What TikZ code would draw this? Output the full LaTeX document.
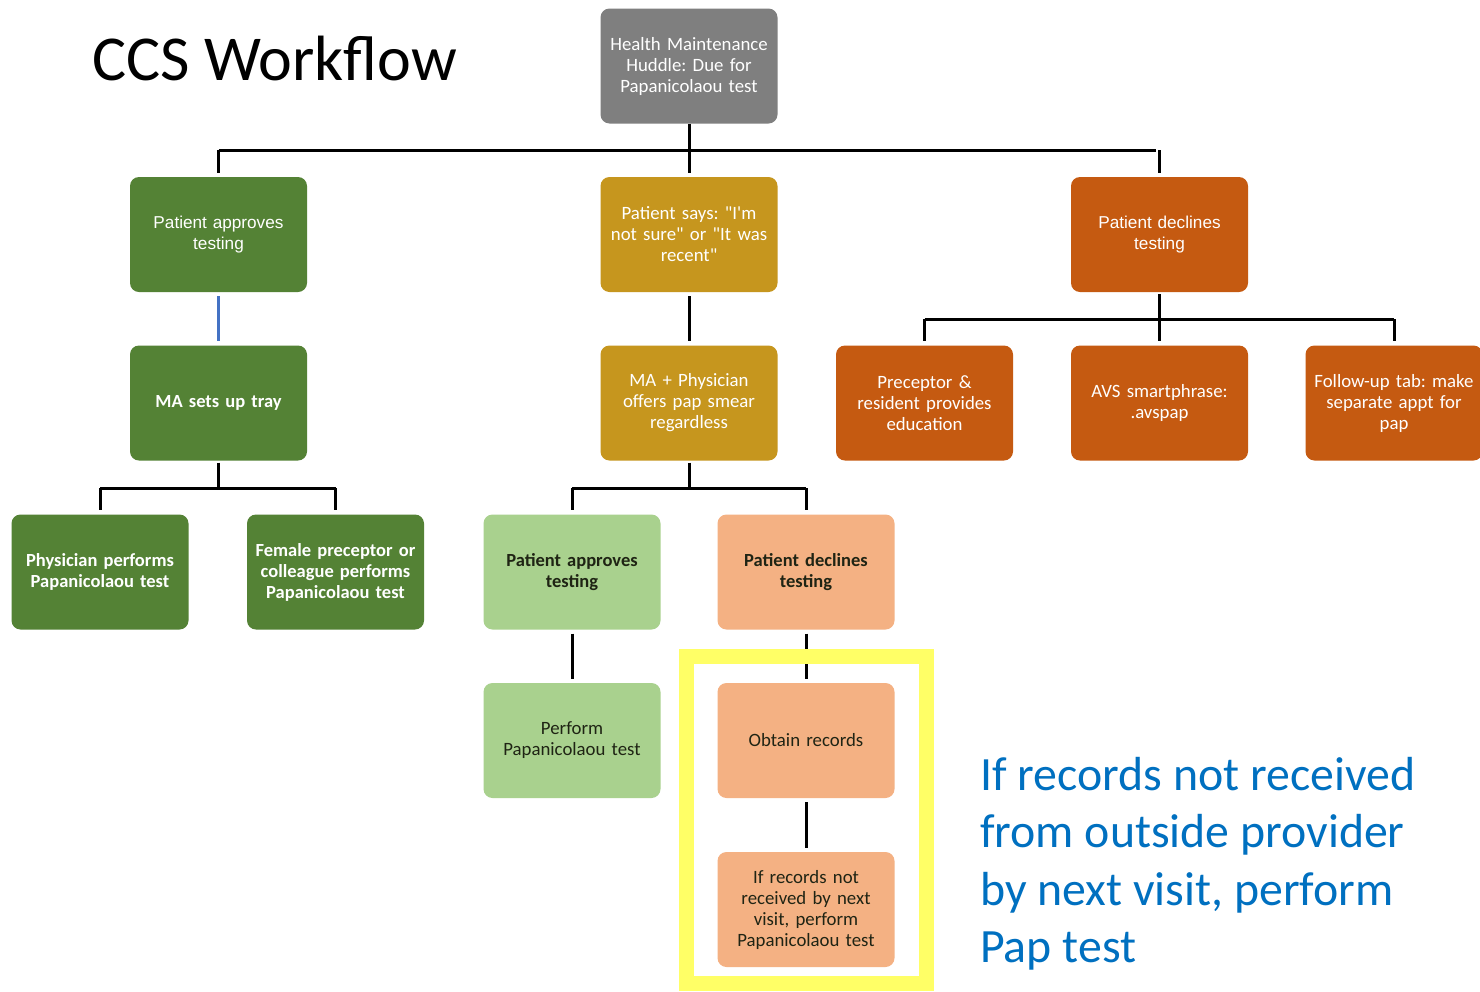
\documentclass[tikz,border=0pt]{standalone}
\usepackage{fontspec}
\setmainfont{Carlito}
\newfontfamily\arialfont{Liberation Sans}
\usetikzlibrary{calc}
\frenchspacing
\definecolor{hmgrey}{HTML}{7F7F7F}
\definecolor{dkgreen}{HTML}{548235}
\definecolor{mustard}{HTML}{C6961E}
\definecolor{burnt}{HTML}{C55A11}
\definecolor{ltgreen}{HTML}{A9D18E}
\definecolor{peach}{HTML}{F4B183}
\definecolor{linkblue}{HTML}{4472C4}
\definecolor{noteblue}{HTML}{0070C0}
\definecolor{hilite}{HTML}{FFFF66}
\definecolor{darktext}{HTML}{1F2414}
\begin{document}
\begin{tikzpicture}[x=1pt,y=-1pt,
  box/.style={rectangle, rounded corners=9pt, minimum width=177pt, minimum height=115pt,
    text width=174pt, align=center, inner sep=0pt, font=\fontsize{18.8}{21}\selectfont},
  dark/.style={box, text=white},
  light/.style={box, text=darktext},
  boldtext/.style={font=\bfseries\fontsize{18.5}{21}\selectfont},
  sanstext/.style={font=\arialfont\fontsize{17.2}{21}\selectfont},
  conn/.style={line width=3pt, black},
  drop/.style={conn, shorten >=4pt},
  link/.style={conn, shorten >=4pt, shorten <=4pt}]
\useasboundingbox (0,0) rectangle (1480,991);
\fill[white] (0,0) rectangle (1480,991);

% title
\node[anchor=base west, inner sep=0pt, font=\fontsize{64}{70}\selectfont] (title) at (92,80) {CCS Workflow};

% level 1
\node[dark, fill=hmgrey] (hm) at (689,66) {Health Maintenance\\Huddle: Due for\\Papanicolaou test};

% level 2
\node[dark, fill=dkgreen, sanstext] (pa) at (218.5,234.5) {Patient approves\\testing};
\node[dark, fill=mustard] (ns) at (689,234.5) {Patient says: \textquotedbl I\textquotesingle m\\not sure\textquotedbl{} or \textquotedbl It was\\recent\textquotedbl};
\node[dark, fill=burnt, sanstext] (pd) at (1159.5,234.5) {Patient declines\\testing};

% level 3
\node[dark, fill=dkgreen, boldtext] (ma) at (218.5,403) {MA sets up tray};
\node[dark, fill=mustard] (mp) at (689,403) {MA + Physician\\offers pap smear\\regardless};
\node[dark, fill=burnt] (pe) at (924.5,403) {Preceptor \&\\resident provides\\education};
\node[dark, fill=burnt] (avs) at (1159.5,403) {AVS smartphrase:\\.avspap};
\node[dark, fill=burnt] (fu) at (1394,403) {Follow-up tab: make\\separate appt for\\pap};

% level 4
\node[dark, fill=dkgreen, boldtext] (ph) at (100,572) {Physician performs\\Papanicolaou test};
\node[dark, fill=dkgreen, boldtext] (fp) at (335.5,572) {Female preceptor or\\colleague performs\\Papanicolaou test};
\node[light, fill=ltgreen, boldtext] (pa2) at (572,572) {Patient approves\\testing};
\node[light, fill=peach, boldtext] (pd2) at (806,572) {Patient declines\\testing};

% level 5 and 6
\node[light, fill=ltgreen] (pp) at (572,740.5) {Perform\\Papanicolaou test};
\node[light, fill=peach] (ob) at (806,740.5) {Obtain records};
\node[light, fill=peach] (ir) at (806,909.5) {If records not\\received by next\\visit, perform\\Papanicolaou test};

% bar heights of the branching connectors
\coordinate (barA) at (0,150);
\coordinate (barB) at (0,319);
\coordinate (barC) at (0,488);

% branching connectors
\draw[conn] (hm.south) -- (hm.south |- barA);
\draw[drop] (pa.north |- barA) -- (pd.north |- barA);
\draw[drop] (pa.north |- barA) -- (pa.north);
\draw[drop] (ns.north |- barA) -- (ns.north);
\draw[drop] (pd.north |- barA) -- (pd.north);

\draw[conn] ([yshift=-2pt]pd.south) -- (pd.south |- barB);
\draw[conn] (pe.north |- barB) -- (fu.north |- barB);
\draw[drop] (pe.north |- barB) -- (pe.north);
\draw[drop] (avs.north |- barB) -- (avs.north);
\draw[drop] (fu.north |- barB) -- (fu.north);

\draw[conn] ([yshift=-2pt]ma.south) -- (ma.south |- barC);
\draw[conn] (ph.north |- barC) -- (fp.north |- barC);
\draw[drop] (ph.north |- barC) -- (ph.north);
\draw[drop] (fp.north |- barC) -- (fp.north);

\draw[conn] ([yshift=-2pt]mp.south) -- (mp.south |- barC);
\draw[conn] (pa2.north |- barC) -- (pd2.north |- barC);
\draw[drop] (pa2.north |- barC) -- (pa2.north);
\draw[drop] (pd2.north |- barC) -- (pd2.north);

% straight connectors
\draw[link, linkblue] (pa) -- (ma);
\draw[link] (ns) -- (mp);
\draw[link] (pa2) -- (pp);
\draw[link] (pd2) -- (ob);
\draw[link] (ob) -- (ir);

% highlight frame round the records steps
\draw[hilite, line width=15pt] (686,656) rectangle (926.5,983);

% note
\node[anchor=north west, inner sep=0pt, align=left, text=noteblue,
  font=\fontsize{47.8}{57.5}\selectfont] (note) at (980,757)
  {If records not received\\from outside provider\\by next visit, perform\\Pap test};
\end{tikzpicture}
\end{document}
